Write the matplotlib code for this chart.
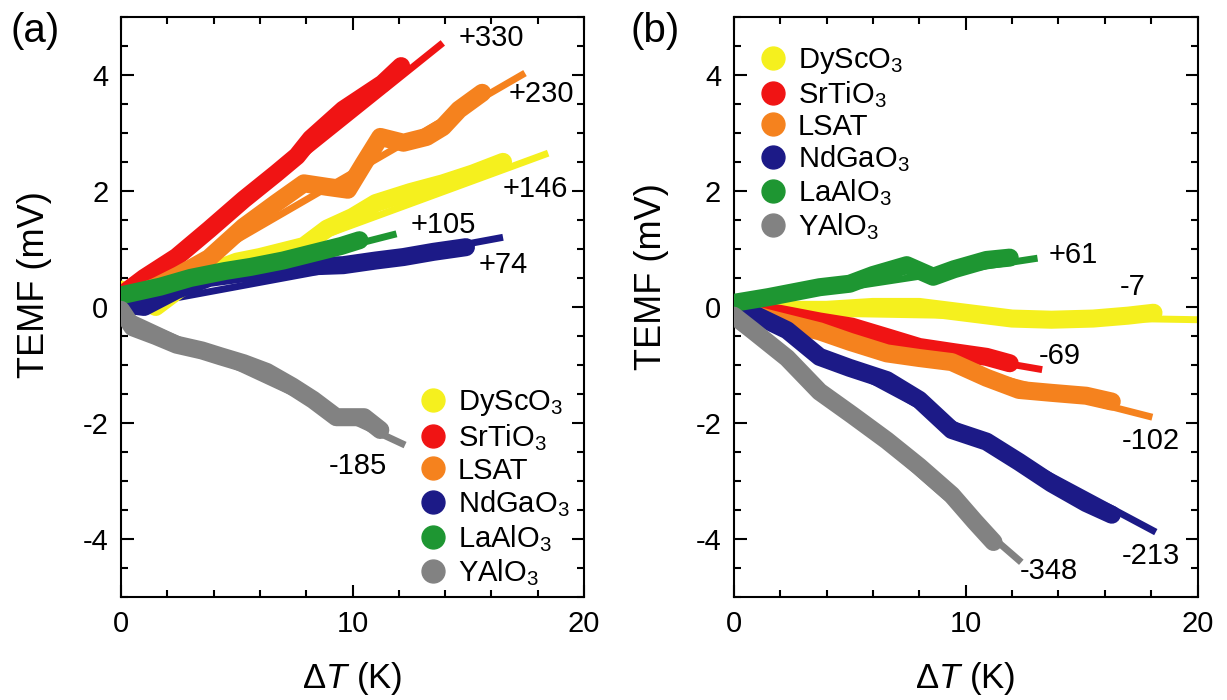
import matplotlib
matplotlib.use("Agg")
import matplotlib.pyplot as plt
from matplotlib.lines import Line2D
from matplotlib.ticker import MultipleLocator

plt.rcParams['font.family'] = ['Liberation Sans', 'DejaVu Sans']
plt.rcParams['mathtext.fontset'] = 'custom'
plt.rcParams['mathtext.rm'] = 'Liberation Sans'
plt.rcParams['mathtext.it'] = 'Liberation Sans:italic'
plt.rcParams['axes.unicode_minus'] = False

names = ["DyScO$_3$", "SrTiO$_3$", "LSAT", "NdGaO$_3$", "LaAlO$_3$", "YAlO$_3$"]
colors = ["#f5f01e", "#f01414", "#f5821e", "#1c1a87", "#1e9632", "#828282"]

# panel (a): measured curves (dT in K, TEMF in mV)
a_dy_x = [0, 0.8, 1.5, 2.5, 3.8, 5, 6, 6.7, 7.9, 8.9, 10, 11, 12.5, 13.9, 15.2, 16.5]
a_dy_y = [0.3, 0.15, 0.0, 0.3, 0.6, 0.78, 0.86, 0.93, 1.05, 1.35, 1.55, 1.79, 1.98, 2.13, 2.3, 2.5]
a_sr_x = [0, 1, 2.4, 3.8, 5.3, 6.7, 7.6, 8.2, 9.6, 11.3, 12.1]
a_sr_y = [0.2, 0.5, 0.86, 1.33, 1.85, 2.3, 2.6, 2.9, 3.4, 3.85, 4.15]
a_ls_x = [0.3, 1.5, 2.5, 3.8, 5.3, 6.7, 7.9, 8.9, 9.8, 10.5, 11.2, 12.2, 13.2, 13.9, 14.6, 15.6]
a_ls_y = [0.15, 0.35, 0.55, 0.84, 1.38, 1.79, 2.13, 2.07, 2.02, 2.48, 2.93, 2.83, 2.93, 3.1, 3.4, 3.69]
a_nd_x = [0, 1, 2.4, 3.8, 5.3, 6.7, 8.2, 9.6, 11, 12.2, 13.5, 14.9]
a_nd_y = [0.05, 0.0, 0.29, 0.5, 0.58, 0.64, 0.7, 0.72, 0.8, 0.86, 0.95, 1.03]
a_la_x = [0, 1.7, 3, 4.5, 5.6, 7, 8.5, 9.5, 10.3]
a_la_y = [0.2, 0.35, 0.5, 0.62, 0.69, 0.8, 0.95, 1.05, 1.15]
a_ya_x = [0, 0.5, 1.5, 2.4, 3.5, 4.3, 5.3, 6.3, 7.4, 8.3, 9.3, 10.5, 11.2]
a_ya_y = [-0.05, -0.35, -0.5, -0.65, -0.75, -0.85, -0.97, -1.12, -1.37, -1.6, -1.9, -1.9, -2.12]

# panel (a): linear fit end points
a_fit_x = [(0, 18.45), (0, 13.9), (0, 17.45), (0, 16.5), (0, 11.9), (0, 12.27)]
a_fit_y = [(-0.05, 2.65), (0.1, 4.55), (0.0, 4.03), (-0.02, 1.2), (0.05, 1.26), (-0.1, -2.38)]
a_slopes = ["+146", "+330", "+230", "+74", "+105", "-185"]
a_lab_x = [17.9, 16.0, 18.15, 16.5, 13.9, 10.24]
a_lab_y = [2.03, 4.64, 3.67, 0.72, 1.41, -2.74]

# panel (b): measured curves
b_dy_x = [0, 2, 4, 6, 8, 10, 12, 13.7, 15.5, 17, 18.1]
b_dy_y = [-0.05, -0.05, -0.05, 0.0, 0.0, -0.1, -0.2, -0.22, -0.2, -0.15, -0.1]
b_sr_x = [0, 2, 3.7, 5.1, 6.6, 8, 9.5, 10.9, 11.9]
b_sr_y = [0, -0.12, -0.25, -0.34, -0.52, -0.69, -0.78, -0.86, -0.97]
b_ls_x = [0, 1.5, 3.7, 5, 6.6, 8, 9.4, 10.9, 12.3, 13.7, 15.2, 16.3]
b_ls_y = [-0.05, -0.2, -0.42, -0.6, -0.8, -0.88, -0.95, -1.22, -1.43, -1.48, -1.53, -1.63]
b_nd_x = [0, 1, 2.3, 3.7, 5, 6.6, 8, 9.4, 10.9, 12.3, 13.7, 15.2, 16.3]
b_nd_y = [0, -0.15, -0.4, -0.86, -1.05, -1.26, -1.6, -2.12, -2.32, -2.67, -3.04, -3.38, -3.58]
b_la_x = [0, 1.5, 3.7, 5, 6, 7.46, 8.6, 9.5, 10.9, 11.9]
b_la_y = [0.07, 0.17, 0.34, 0.4, 0.55, 0.72, 0.52, 0.65, 0.81, 0.85]
b_ya_x = [0, 0.8, 2.3, 3.7, 5.1, 6.6, 8, 9.4, 10.4, 11.2]
b_ya_y = [-0.15, -0.4, -0.88, -1.46, -1.86, -2.3, -2.75, -3.24, -3.7, -4.05]

b_fit_x = [(0, 20), (0, 13.3), (0, 18.05), (0, 18.2), (0, 13.1), (0, 12.4)]
b_fit_y = [(-0.08, -0.22), (-0.16, -1.08), (-0.06, -1.9), (0, -3.88), (0.04, 0.84), (-0.1, -4.4)]
b_slopes = ["-7", "-69", "-102", "-213", "+61", "-348"]
b_lab_x = [17.2, 14.05, 18.0, 18.0, 14.65, 13.6]
b_lab_y = [0.34, -0.84, -2.31, -4.29, 0.9, -4.55]

a_data = [(a_dy_x, a_dy_y), (a_sr_x, a_sr_y), (a_ls_x, a_ls_y),
          (a_nd_x, a_nd_y), (a_la_x, a_la_y), (a_ya_x, a_ya_y)]
b_data = [(b_dy_x, b_dy_y), (b_sr_x, b_sr_y), (b_ls_x, b_ls_y),
          (b_nd_x, b_nd_y), (b_la_x, b_la_y), (b_ya_x, b_ya_y)]

fig = plt.figure(figsize=(12.27, 7), dpi=100)
ax_a = fig.add_axes([0.0986, 0.147, 0.3774, 0.829])
ax_b = fig.add_axes([0.598, 0.147, 0.378, 0.829])


def draw_panel(ax, data, fx, fy, slopes, lx, ly, order):
    for i in order:
        x, y = data[i]
        ax.plot(fx[i], fy[i], color=colors[i], lw=5, solid_capstyle='butt', zorder=2 + i * 0.1)
        ax.plot(x, y, color=colors[i], lw=13, solid_capstyle='round',
                solid_joinstyle='round', zorder=3 + i * 0.1)
    for i in range(6):
        ax.text(lx[i], ly[i], slopes[i], fontsize=21, ha='center', va='center', clip_on=False)
    ax.set_xlim(0, 20)
    ax.set_ylim(-5, 5)
    ax.set_xticks([0, 10, 20])
    ax.set_yticks([-4, -2, 0, 2, 4])
    ax.xaxis.set_minor_locator(MultipleLocator(2))
    ax.yaxis.set_minor_locator(MultipleLocator(0.5))
    ax.tick_params(which='both', direction='in', top=True, right=True, width=1.5, labelsize=21)
    ax.tick_params(which='major', length=9, pad=9)
    ax.tick_params(which='minor', length=5)
    for s in ax.spines.values():
        s.set_linewidth(1.5)
    ax.set_xlabel(r"$\Delta\it{T}$ (K)", fontsize=25, labelpad=16)
    ax.set_ylabel("TEMF (mV)", fontsize=26)


draw_panel(ax_a, a_data, a_fit_x, a_fit_y, a_slopes, a_lab_x, a_lab_y, [5, 3, 4, 0, 2, 1])
draw_panel(ax_b, b_data, b_fit_x, b_fit_y, b_slopes, b_lab_x, b_lab_y, [5, 3, 2, 1, 0, 4])
ax_a.yaxis.set_label_coords(-0.15, 0.538)
ax_b.yaxis.set_label_coords(-0.14, 0.552)

handles = [Line2D([], [], ls='none', marker='o', ms=16.5, color=c) for c in colors]
ax_a.legend(handles, names, loc='lower left', bbox_to_anchor=(0.605, -0.02), frameon=False,
            fontsize=21, handlelength=0.8, handletextpad=0.45, labelspacing=0.13, borderpad=0.2)
ax_b.legend(handles, names, loc='upper left', bbox_to_anchor=(0.015, 0.985), frameon=False,
            fontsize=21, handlelength=0.8, handletextpad=0.45, labelspacing=0.1, borderpad=0.2)

fig.text(0.029, 0.955, "(a)", fontsize=29, va='center', ha='center')
fig.text(0.534, 0.955, "(b)", fontsize=29, va='center', ha='center')

fig.savefig("out.png", dpi=100)
